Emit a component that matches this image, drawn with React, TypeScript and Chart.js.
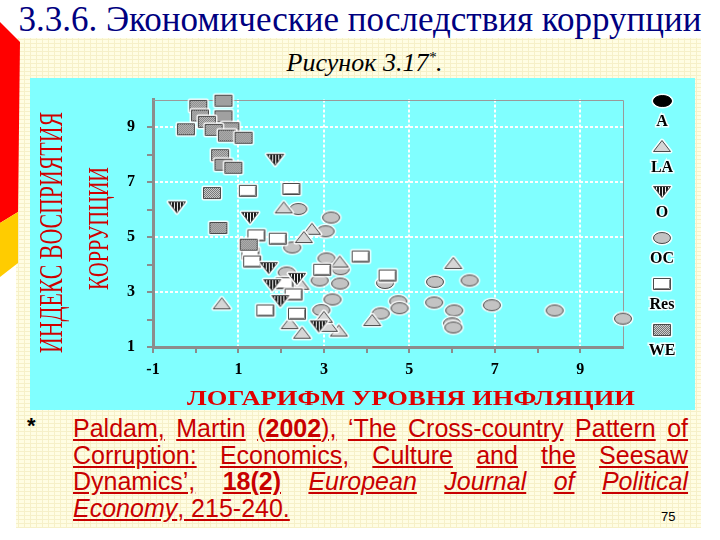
import React, { useEffect, useRef } from 'react';
import { Chart, registerables } from 'chart.js';

Chart.register(...registerables);

// ---------- texts ----------
const TITLE = '3.3.6. Экономические последствия коррупции';
const SUBTITLE = 'Рисунок 3.17';
const X_TITLE = 'ЛОГАРИФМ УРОВНЯ ИНФЛЯЦИИ';
const Y_TITLE_1 = 'ИНДЕКС ВОСПРИЯТИЯ';
const Y_TITLE_2 = 'КОРРУПЦИИ';
const PAGE_NUMBER = '75';

// ---------- axes ----------
const X_MIN = -1;
const X_MAX = 10;
const Y_MIN = 1;
const Y_MAX = 10;
const X_TICK_LABELS = [-1, 1, 3, 5, 7, 9];
const Y_TICK_LABELS = [1, 3, 5, 7, 9];
const X_GRID = [1, 3, 5, 7, 9];
const Y_GRID = [3, 5, 7, 9];

// ---------- data (x = log inflation, y = corruption perception index) ----------
const GROUP_LABELS = ['A', 'LA', 'O', 'OC', 'Res', 'WE'];

const A_POINTS: [number, number][] = [];
const LA_POINTS: [number, number][] = [
  [2.06, 6.08], [2.72, 5.3], [2.53, 5.0], [0.61, 2.59], [2.2, 1.87], [2.49, 1.52],
  [3.35, 1.6], [3.12, 1.77], [3.0, 2.1], [2.45, 3.3], [3.37, 4.11], [4.13, 1.98], [6.03, 4.06],
];
const O_POINTS: [number, number][] = [
  [1.86, 7.81], [-0.44, 6.08], [1.27, 5.7], [1.71, 3.87], [2.37, 3.48], [1.79, 3.25],
  [1.98, 2.67], [2.88, 1.75],
];
const OC_POINTS: [number, number][] = [
  [2.4, 6.02], [3.17, 5.71], [3.04, 5.21], [2.26, 4.62], [3.06, 4.22], [3.39, 3.83],
  [2.13, 3.71], [2.9, 3.42], [3.38, 3.31], [3.2, 2.73], [2.94, 2.34], [4.43, 3.33],
  [4.74, 2.66], [4.77, 2.41], [4.33, 2.22], [5.6, 3.37], [6.41, 3.42], [5.58, 2.62],
  [6.05, 2.33], [6.0, 1.86], [6.03, 1.71], [6.93, 2.52], [8.4, 2.33], [10.0, 2.03],
];
const RES_POINTS: [number, number][] = [
  [1.22, 6.68], [2.24, 6.75], [1.42, 5.06], [1.92, 4.94], [1.28, 4.4], [1.32, 4.11],
  [2.96, 3.81], [2.08, 3.32], [2.29, 2.91], [1.63, 2.33], [2.37, 2.21], [3.86, 4.29],
  [4.49, 3.6],
];
const WE_POINTS: [number, number][] = [
  [0.65, 9.96], [0.06, 9.77], [0.1, 9.42], [0.65, 9.39], [0.26, 9.19], [0.81, 8.96],
  [-0.23, 8.92], [0.42, 8.9], [0.73, 8.69], [1.12, 8.61], [0.57, 7.98], [0.65, 7.63],
  [0.88, 7.52], [0.38, 6.6], [0.53, 5.33], [1.24, 4.72],
];

// ---------- footnote ----------
type Seg = [string, 'n' | 'b' | 'i'];
const FOOTNOTE_LINES: Seg[][][] = [
  [[['Paldam,', 'n']], [['Martin', 'n']], [['(', 'n'], ['2002', 'b'], ['),', 'n']], [['‘The', 'n']], [['Cross-country', 'n']], [['Pattern', 'n']], [['of', 'n']]],
  [[['Corruption:', 'n']], [['Economics,', 'n']], [['Culture', 'n']], [['and', 'n']], [['the', 'n']], [['Seesaw', 'n']]],
  [[['Dynamics’,', 'n']], [['18(2)', 'b']], [['European', 'i']], [['Journal', 'i']], [['of', 'i']], [['Political', 'i']]],
  [[['Economy', 'i'], [', 215-240.', 'n']]],
];

const SERIF = "'Liberation Serif', 'Times New Roman', Times, serif";
const SANS = "'Liberation Sans', Arial, sans-serif";

function makeMarker(kind: string): HTMLCanvasElement {
  const w = kind === 'black' ? 19 : 18;
  const h = 12;
  const m = 3;
  const c = document.createElement('canvas');
  c.width = w + 2 * m;
  c.height = h + 2 * m;
  const g = c.getContext('2d') as CanvasRenderingContext2D;
  const x0 = m;
  const y0 = m;
  const shape = () => {
    g.beginPath();
    if (kind === 'ellipse' || kind === 'black') {
      g.ellipse(x0 + w / 2, y0 + h / 2, w / 2 - 0.5, h / 2 - 0.5, 0, 0, Math.PI * 2);
    } else if (kind === 'up') {
      g.moveTo(x0 + w / 2, y0 + 0.5);
      g.lineTo(x0 + w - 0.5, y0 + h - 0.5);
      g.lineTo(x0 + 0.5, y0 + h - 0.5);
      g.closePath();
    } else if (kind === 'down') {
      g.moveTo(x0 + 0.5, y0 + 0.5);
      g.lineTo(x0 + w - 0.5, y0 + 0.5);
      g.lineTo(x0 + w / 2, y0 + h - 0.5);
      g.closePath();
    } else {
      g.rect(x0 + 0.5, y0 + 0.5, w - 1, h - 1);
    }
  };
  // white halo
  shape();
  g.lineJoin = 'round';
  g.lineWidth = 4;
  g.strokeStyle = 'rgba(255,255,255,0.9)';
  g.stroke();
  // fill
  g.save();
  shape();
  g.clip();
  if (kind === 'check') {
    for (let yy = 0; yy < c.height; yy++) {
      for (let xx = 0; xx < c.width; xx++) {
        g.fillStyle = (xx + yy) % 2 === 0 ? '#747474' : '#cdcdcd';
        g.fillRect(xx, yy, 1, 1);
      }
    }
  } else if (kind === 'down') {
    g.fillStyle = '#f2f2f2';
    g.fillRect(0, 0, c.width, c.height);
    g.fillStyle = '#1a1a1a';
    for (let xx = x0 + 1; xx < x0 + w; xx += 3) g.fillRect(xx, 0, 2, c.height);
  } else {
    g.fillStyle = kind === 'black' ? '#000000' : kind === 'ellipse' ? '#c3c3c3' : kind === 'up' ? '#d6d6d6' : '#ffffff';
    g.fillRect(0, 0, c.width, c.height);
  }
  g.restore();
  shape();
  g.lineWidth = 1;
  g.strokeStyle = kind === 'black' ? '#000000' : '#4a4a4a';
  g.stroke();
  if (kind === 'rect') {
    g.strokeStyle = '#8a8a8a';
    g.beginPath();
    g.moveTo(x0 + w - 1.5, y0 + 1.5);
    g.lineTo(x0 + w - 1.5, y0 + h - 1.5);
    g.lineTo(x0 + 1.5, y0 + h - 1.5);
    g.stroke();
  }
  return c;
}

function drawStretched(
  ctx: CanvasRenderingContext2D, text: string, size: number, weight: string, color: string,
  cx: number, cy: number, targetLen: number, capTarget: number, rotate: boolean,
) {
  ctx.save();
  ctx.font = `${weight} ${size}px ${SERIF}`;
  const w = ctx.measureText(text).width;
  const cap = size * 0.66;
  ctx.translate(cx, cy);
  if (rotate) ctx.rotate(-Math.PI / 2);
  ctx.scale(targetLen / w, capTarget / cap);
  ctx.fillStyle = color;
  ctx.textAlign = 'center';
  ctx.textBaseline = 'alphabetic';
  ctx.fillText(text, 0, cap / 2);
  ctx.restore();
}

const slidePlugin = {
  id: 'slideDecor',
  beforeDatasetsDraw(chart: any) {
    const { ctx, chartArea: a } = chart;
    ctx.save();
    ctx.strokeStyle = '#9a9a9a';
    ctx.lineWidth = 1;
    ctx.beginPath();
    ctx.moveTo(a.left, Math.round(a.top) + 0.5);
    ctx.lineTo(Math.round(a.right) + 0.5, Math.round(a.top) + 0.5);
    ctx.lineTo(Math.round(a.right) + 0.5, a.bottom);
    ctx.stroke();
    ctx.restore();
  },
  afterDraw(chart: any) {
    const { ctx, chartArea: a } = chart;
    // axis titles
    drawStretched(ctx, X_TITLE, 20, 'bold', '#e00000', 381, 320.5, 448, 13.5, false);
    drawStretched(ctx, Y_TITLE_1, 22, 'normal', '#d00000', 21, 154.5, 241, 22, true);
    drawStretched(ctx, Y_TITLE_2, 22, 'normal', '#d00000', 68, 150.5, 123, 20, true);
    // side legend: symbol above label
    const lx = a.right + 39;
    chart.data.datasets.forEach((ds: any, i: number) => {
      const sy = a.top + 1 + i * 45.8;
      const img = ds.pointStyle as HTMLCanvasElement;
      ctx.drawImage(img, Math.round(lx - img.width / 2), Math.round(sy - img.height / 2));
      ctx.save();
      ctx.font = `bold 16px ${SERIF}`;
      ctx.textAlign = 'center';
      ctx.textBaseline = 'middle';
      ctx.lineWidth = 3;
      ctx.strokeStyle = 'rgba(255,255,255,0.85)';
      ctx.strokeText(ds.label, lx, sy + 21);
      ctx.fillStyle = '#000000';
      ctx.fillText(ds.label, lx, sy + 21);
      ctx.restore();
    });
  },
};

export default function App() {
  const ref = useRef<HTMLCanvasElement | null>(null);

  useEffect(() => {
    const canvas = ref.current;
    if (!canvas) return;
    const markers: Record<string, HTMLCanvasElement> = {
      A: makeMarker('black'),
      LA: makeMarker('up'),
      O: makeMarker('down'),
      OC: makeMarker('ellipse'),
      Res: makeMarker('rect'),
      WE: makeMarker('check'),
    };
    const pointsBy: Record<string, [number, number][]> = {
      A: A_POINTS, LA: LA_POINTS, O: O_POINTS, OC: OC_POINTS, Res: RES_POINTS, WE: WE_POINTS,
    };
    const drawOrder: Record<string, number> = { A: 5, OC: 4, LA: 3, Res: 2, O: 1, WE: 0 };

    const gridColor = (list: number[]) => (c: any) =>
      c.tick && list.includes(c.tick.value) ? '#ffffff' : 'rgba(0,0,0,0)';
    const tickColor = (max: number) => (c: any) =>
      c.tick && c.tick.value === max ? 'rgba(0,0,0,0)' : '#8c8c8c';
    const tickFont = { family: SERIF, size: 16, weight: 'bold' as const };

    const chart = new Chart(canvas, {
      type: 'scatter',
      data: {
        datasets: GROUP_LABELS.map((g) => ({
          label: g,
          data: pointsBy[g].map(([x, y]) => ({ x, y })),
          pointStyle: markers[g] as any,
          pointRadius: 8,
          pointHoverRadius: 8,
          clip: false as any,
          order: drawOrder[g],
        })),
      },
      options: {
        animation: false,
        responsive: false,
        maintainAspectRatio: false,
        events: [],
        layout: { padding: { top: 10, right: 72, left: 0, bottom: 0 } },
        plugins: { legend: { display: false }, tooltip: { enabled: false } },
        scales: {
          x: {
            type: 'linear',
            min: X_MIN,
            max: X_MAX,
            afterFit: (s: any) => { s.height = 63; },
            ticks: {
              stepSize: 1,
              autoSkip: false,
              maxRotation: 0,
              padding: 7,
              color: '#000000',
              font: tickFont,
              callback: (v: any) => (X_TICK_LABELS.includes(Number(v)) ? String(v) : ''),
            },
            grid: {
              color: gridColor(X_GRID),
              lineWidth: 2,
              tickLength: 6,
              tickWidth: 2,
              tickColor: tickColor(X_MAX),
            },
            border: { color: '#8c8c8c', width: 3, dash: [3, 2] },
          },
          y: {
            type: 'linear',
            min: Y_MIN,
            max: Y_MAX,
            afterFit: (s: any) => { s.width = 123; },
            ticks: {
              stepSize: 1,
              autoSkip: false,
              padding: 12,
              color: '#000000',
              font: tickFont,
              callback: (v: any) => (Y_TICK_LABELS.includes(Number(v)) ? String(v) : ''),
            },
            grid: {
              color: gridColor(Y_GRID),
              lineWidth: 2,
              tickLength: 6,
              tickWidth: 2,
              tickColor: tickColor(Y_MAX),
            },
            border: { color: '#8c8c8c', width: 3, dash: [3, 2] },
          },
        },
      },
      plugins: [slidePlugin],
    } as any);
    return () => chart.destroy();
  }, []);

  return (
    <div style={{ position: 'fixed', left: 0, top: 0, width: 720, height: 540, background: '#ffffff', overflow: 'hidden' }}>
      <svg width={720} height={540} style={{ position: 'absolute', left: 0, top: 0 }}>
        <defs>
          <pattern id="lattice" width="6" height="4" patternUnits="userSpaceOnUse">
            <rect width="6" height="4" fill="#fffde3" />
            <path d="M0 3.5H6M0.5 0V4" stroke="#f6f0c8" strokeWidth="1" />
          </pattern>
        </defs>
        <rect x={16} y={38} width={685} height={490} fill="url(#lattice)" />
        <polygon points="0,22 20,42 18,212 0,223" fill="#ff0000" />
        <polygon points="0,223 18,212 18,263 0,277" fill="#ffcc00" />
      </svg>
      <div style={{ position: 'absolute', left: 0, top: 2, width: 720, textAlign: 'center', fontFamily: SERIF, fontSize: 35, lineHeight: '35px', color: '#000080', whiteSpace: 'nowrap' }}>
        {TITLE}
      </div>
      <div style={{ position: 'absolute', left: 0, top: 50, width: 729, textAlign: 'center', fontFamily: SERIF, fontStyle: 'italic', fontSize: 26, lineHeight: '26px', color: '#000000', whiteSpace: 'nowrap' }}>
        {SUBTITLE}
        <span style={{ position: 'relative', top: -9, fontSize: 15 }}>*</span>.
      </div>
      <canvas
        ref={ref}
        width={665}
        height={332}
        style={{ position: 'absolute', left: 30, top: 78, width: 665, height: 332, background: '#80ffff' }}
      />
      <div style={{ position: 'absolute', left: 27, top: 413, fontFamily: SANS, fontWeight: 'bold', fontSize: 22, color: '#000000' }}>*</div>
      <div style={{ position: 'absolute', left: 73, top: 415, width: 615, fontFamily: SANS, fontSize: 25, lineHeight: '26.5px', color: '#c80000' }}>
        {FOOTNOTE_LINES.map((line, li) => (
          <div key={li} style={{ textAlign: li < 3 ? 'justify' : 'left', textAlignLast: li < 3 ? 'justify' : 'left' } as any}>
            {line.map((word, wi) => (
              <React.Fragment key={wi}>
                {wi > 0 ? ' ' : ''}
                <span style={{ textDecoration: 'underline' }}>
                  {word.map(([t, s], si) => (
                    <span key={si} style={{ fontWeight: s === 'b' ? 'bold' : 'normal', fontStyle: s === 'i' ? 'italic' : 'normal' }}>{t}</span>
                  ))}
                </span>
              </React.Fragment>
            ))}
          </div>
        ))}
      </div>
      <div style={{ position: 'absolute', left: 661, top: 509, fontFamily: "'Liberation Sans Narrow', 'Liberation Sans', Arial, sans-serif", fontSize: 13, color: '#000000' }}>
        {PAGE_NUMBER}
      </div>
    </div>
  );
}
